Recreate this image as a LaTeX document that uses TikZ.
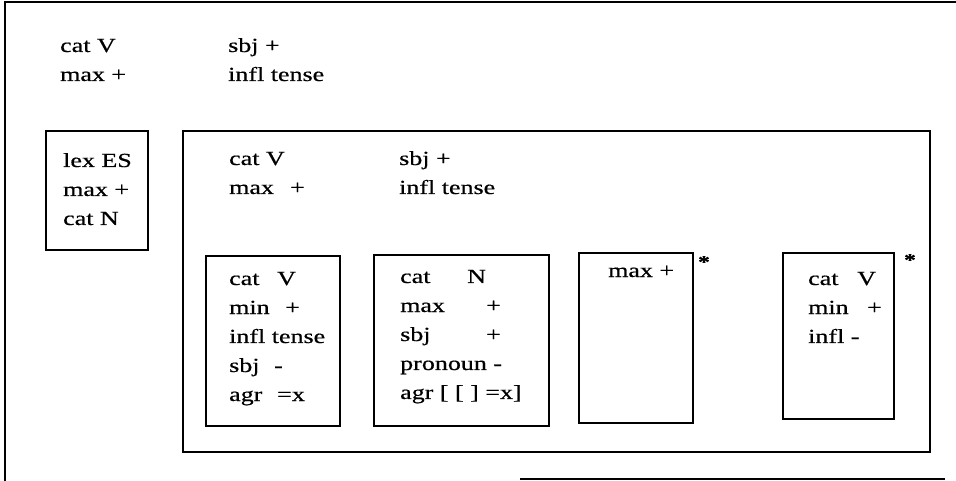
\documentclass[tikz,border=0pt]{standalone}
\usepackage{fontspec}
\setmainfont{Liberation Serif}[FakeStretch=1.3,FakeBold=0.6]
\newcommand{\fblock}[1]{\begin{tabular}[t]{@{}l@{}}#1\end{tabular}}
\tikzset{
  framebox/.style={draw, line width=1.6pt, anchor=north west, inner sep=0pt},
  lbl/.style={anchor=base west, inner sep=0pt, font=\fontsize{20}{29}\selectfont},
  starlbl/.style={inner sep=0pt, font=\fontsize{18}{20}\selectfont\bfseries},
  rule/.style={line width=1.6pt}
}
\begin{document}
\begin{tikzpicture}[x=1pt,y=-1pt]
\useasboundingbox (0,0) rectangle (956,481);
% outer frame (partial)
\coordinate (tl) at (5,2);
\coordinate (tr) at (956,2);
\coordinate (bl) at (5,481);
\coordinate (bs) at (520,479);
\coordinate (be) at (945,479);
\draw[rule] (tr) -- (tl) -- (bl);
\draw[rule] (bs) -- (be);
% top labels
\node[lbl] (t1) at (60,52) {\fblock{cat V\\max +}};
\node[lbl] (t2) at (228,52) {\fblock{sbj +\\infl tense}};
% lex box
\node[framebox, minimum width=102pt, minimum height=119pt] (lex) at (45,130) {};
\node[lbl] (lext) at (63,167) {\fblock{lex ES\\max +\\cat N}};
% big box
\node[framebox, minimum width=747pt, minimum height=321pt] (big) at (182,130) {};
\node[lbl] (bh1) at (229,165) {\fblock{cat V\\\makebox[61pt][l]{max}+}};
\node[lbl] (bh2) at (399,165) {\fblock{sbj +\\infl tense}};
% inner boxes
\node[framebox, minimum width=134pt, minimum height=170pt] (b1) at (205,255) {};
\node[lbl] (b1t) at (229,285) {\fblock{\makebox[48pt][l]{cat}V\\\makebox[56pt][l]{min}+\\infl tense\\\makebox[45pt][l]{sbj}-\\\makebox[48pt][l]{agr}=x}};
\node[framebox, minimum width=175pt, minimum height=171pt] (b2) at (373,254) {};
\node[lbl] (b2t) at (400,283) {\fblock{\makebox[67pt][l]{cat}N\\\makebox[86pt][l]{max}+\\\makebox[86pt][l]{sbj}+\\pronoun -\\agr [ [ ] =x]}};
\node[framebox, minimum width=114pt, minimum height=170pt] (b3) at (578,252) {};
\node[lbl] (b3t) at (608,277) {max +};
\node[framebox, minimum width=111pt, minimum height=166pt] (b4) at (782,252) {};
\node[lbl] (b4t) at (808,285) {\fblock{\makebox[49pt][l]{cat}V\\\makebox[59pt][l]{min}+\\infl -}};
% stars
\node[starlbl] (s1) at (704,262) {*};
\node[starlbl] (s2) at (910,260) {*};
\end{tikzpicture}
\end{document}
